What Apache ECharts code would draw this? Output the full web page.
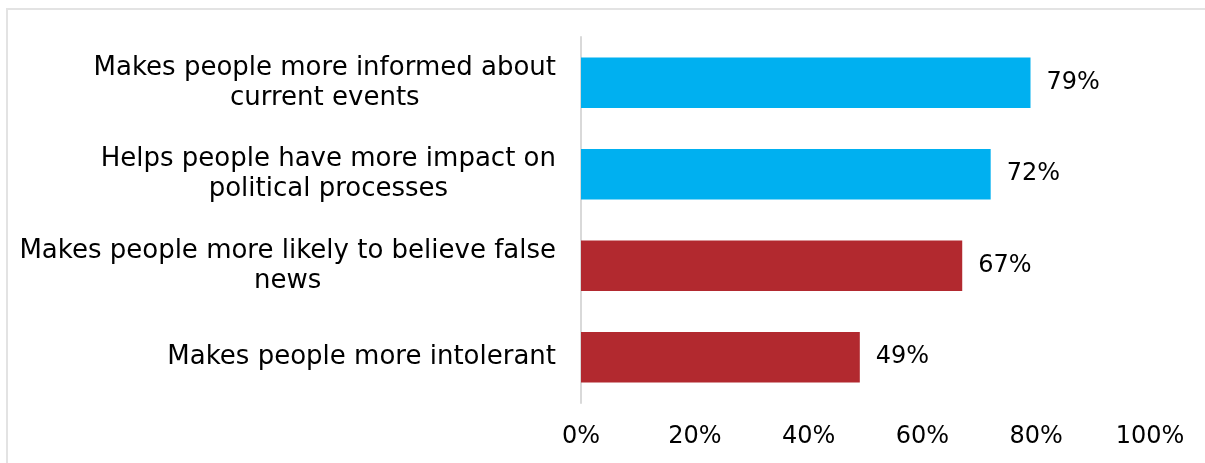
<!DOCTYPE html>
<html>
<head>
<meta charset="utf-8">
<script src="https://cdn.jsdelivr.net/npm/echarts@6/dist/echarts.min.js"></script>
<style>
html,body{margin:0;padding:0;background:#fff;}
#frame{position:absolute;left:6px;top:8px;width:1300px;height:600px;border-top:2px solid #e3e3e3;border-left:2px solid #e3e3e3;box-sizing:border-box;}
#chart{position:absolute;left:0;top:0;width:1205px;height:463px;}
</style>
</head>
<body>
<div id="frame"></div>
<div id="chart"></div>
<script>
const categories = [
  "Makes people more informed about\ncurrent events",
  "Helps people have more impact on\npolitical processes",
  "Makes people more likely to believe false\nnews",
  "Makes people more intolerant"
];
const values = [79, 72, 67, 49];
const barColors = ["#00B0F0", "#00B0F0", "#B2292F", "#B2292F"];
const xTicks = [0, 20, 40, 60, 80, 100];

const FONT = "DejaVu Sans";
const chart = echarts.init(document.getElementById('chart'), null, {renderer: 'canvas'});
chart.setOption({
  animation: false,
  grid: {left: 581, right: 55, top: 37, bottom: 60, containLabel: false},
  xAxis: {
    type: 'value', min: xTicks[0], max: xTicks[xTicks.length - 1], interval: 20,
    axisLine: {show: false}, axisTick: {show: false}, splitLine: {show: false},
    axisLabel: {formatter: '{value}%', color: '#000', fontFamily: FONT, fontSize: 24, margin: 22}
  },
  yAxis: {
    type: 'category', inverse: true, data: categories,
    axisLine: {show: true, lineStyle: {color: '#d9d9d9', width: 2}},
    axisTick: {show: false},
    axisLabel: {
      margin: 25, align: 'right', color: '#000', fontFamily: FONT, fontSize: 26, lineHeight: 30,
      formatter: function (v) { return v.split('\n').map(function (l) { return '{c|' + l + '}'; }).join('\n'); },
      rich: {c: {align: 'center', color: '#000', fontFamily: FONT, fontSize: 26, lineHeight: 30}}
    }
  },
  series: [{
    type: 'bar',
    data: values.map(function (v, i) { return {value: v, itemStyle: {color: barColors[i]}}; }),
    barCategoryGap: '45%',
    label: {show: true, position: 'right', distance: 16, formatter: '{c}%', color: '#000', fontFamily: FONT, fontSize: 24}
  }]
});
</script>
</body>
</html>
